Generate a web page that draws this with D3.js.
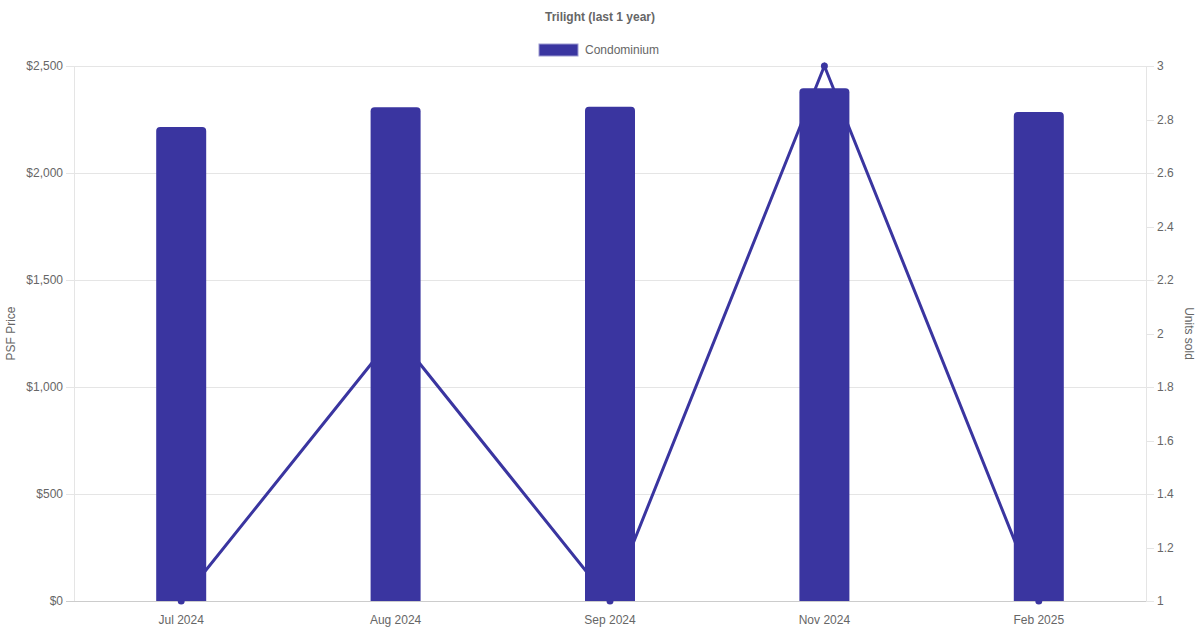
<!DOCTYPE html>
<html>
<head>
<meta charset="utf-8">
<script src="https://cdn.jsdelivr.net/npm/d3@7"></script>
<style>
    body { margin: 0; background: #fff; }
    svg { display: block; font-family: "Liberation Sans", Arial, Helvetica, sans-serif; }
</style>
</head>
<body>
<div id="chart"></div>
<script>
// Chart data
const months = ["Jul 2024", "Aug 2024", "Sep 2024", "Nov 2024", "Feb 2025"];
const psfPrice = [2215, 2307, 2309, 2396, 2285];
const unitsSold = [1, 2, 1, 3, 1];
const priceTicks = [0, 500, 1000, 1500, 2000, 2500];
const unitTicks = [1, 1.2, 1.4, 1.6, 1.8, 2, 2.2, 2.4, 2.6, 2.8, 3];

const width = 1200;
const height = 630;
const margin = { top: 66, right: 54, bottom: 29, left: 74 };
const barColor = "#3a35a0";
const textColor = "#666";
const gridColor = "#e5e5e5";

const svg = d3.select("#chart")
    .append("svg")
    .attr("width", width)
    .attr("height", height);

const x = d3.scaleBand()
    .domain(months)
    .range([margin.left, width - margin.right]);

const yLeft = d3.scaleLinear()
    .domain([0, 2500])
    .range([height - margin.bottom, margin.top]);

const yRight = d3.scaleLinear()
    .domain([1, 3])
    .range([height - margin.bottom, margin.top]);

// Gridlines from the left axis
svg.append("g")
    .selectAll("line")
    .data(priceTicks)
    .join("line")
    .attr("x1", margin.left - 8)
    .attr("x2", width - margin.right)
    .attr("y1", d => Math.round(yLeft(d)) + 0.5)
    .attr("y2", d => Math.round(yLeft(d)) + 0.5)
    .attr("stroke", d => d === 0 ? "#ccc" : gridColor);

// axis lines
svg.append("line")
    .attr("x1", margin.left + 0.5).attr("x2", margin.left + 0.5)
    .attr("y1", margin.top).attr("y2", height - margin.bottom)
    .attr("stroke", gridColor);
svg.append("line")
    .attr("x1", width - margin.right + 0.5).attr("x2", width - margin.right + 0.5)
    .attr("y1", margin.top).attr("y2", height - margin.bottom)
    .attr("stroke", gridColor);

// Left ticks
svg.append("g")
    .selectAll("text")
    .data(priceTicks)
    .join("text")
    .attr("x", margin.left - 11)
    .attr("y", d => yLeft(d))
    .attr("dy", "0.35em")
    .attr("text-anchor", "end")
    .attr("font-size", 12)
    .attr("fill", textColor)
    .text(d => "$" + d3.format(",")(d));

// Right ticks
svg.append("g")
    .selectAll("line")
    .data(unitTicks)
    .join("line")
    .attr("x1", width - margin.right)
    .attr("x2", width - margin.right + 8)
    .attr("y1", d => Math.round(yRight(d)) + 0.5)
    .attr("y2", d => Math.round(yRight(d)) + 0.5)
    .attr("stroke", gridColor);

svg.append("g")
    .selectAll("text")
    .data(unitTicks)
    .join("text")
    .attr("x", width - margin.right + 11)
    .attr("y", d => yRight(d))
    .attr("dy", "0.35em")
    .attr("text-anchor", "start")
    .attr("font-size", 12)
    .attr("fill", textColor)
    .text(d => d3.format("~g")(d));

// x labels
svg.append("g")
    .selectAll("text")
    .data(months)
    .join("text")
    .attr("x", d => x(d) + x.bandwidth() / 2)
    .attr("y", height - margin.bottom + 19)
    .attr("dy", "0.35em")
    .attr("text-anchor", "middle")
    .attr("font-size", 12)
    .attr("fill", textColor)
    .text(d => d);

// Axis titles
svg.append("text")
    .attr("transform", `translate(15, ${(margin.top + height - margin.bottom) / 2}) rotate(-90)`)
    .attr("text-anchor", "middle")
    .attr("font-size", 12)
    .attr("fill", textColor)
    .text("PSF Price");

svg.append("text")
    .attr("transform", `translate(1185, ${(margin.top + height - margin.bottom) / 2}) rotate(90)`)
    .attr("text-anchor", "middle")
    .attr("font-size", 12)
    .attr("fill", textColor)
    .text("Units sold");

// Units line (drawn behind bars)
const line = d3.line()
    .x((d, i) => x(months[i]) + x.bandwidth() / 2)
    .y(d => yRight(d));

svg.append("path")
    .datum(unitsSold)
    .attr("d", line)
    .attr("fill", "none")
    .attr("stroke", barColor)
    .attr("stroke-width", 3);

svg.append("g")
    .selectAll("circle")
    .data(unitsSold)
    .join("circle")
    .attr("cx", (d, i) => x(months[i]) + x.bandwidth() / 2)
    .attr("cy", d => yRight(d))
    .attr("r", 3.5)
    .attr("fill", barColor);

// Bars with rounded tops
const barW = 50;
const r = 4;
function barPath(x0, y0, w, y1) {
    return `M${x0},${y1}V${y0 + r}Q${x0},${y0} ${x0 + r},${y0}H${x0 + w - r}Q${x0 + w},${y0} ${x0 + w},${y0 + r}V${y1}Z`;
}

svg.append("g")
    .selectAll("path")
    .data(psfPrice)
    .join("path")
    .attr("d", (d, i) => barPath(x(months[i]) + x.bandwidth() / 2 - barW / 2, yLeft(d), barW, yLeft(0)))
    .attr("fill", barColor);

// Title
svg.append("text")
    .attr("x", width / 2)
    .attr("y", 17)
    .attr("dy", "0.35em")
    .attr("text-anchor", "middle")
    .attr("font-size", 12)
    .attr("font-weight", "bold")
    .attr("fill", textColor)
    .text("Trilight (last 1 year)");

// Legend
const legend = svg.append("g");
legend.append("rect")
    .attr("x", 539)
    .attr("y", 44)
    .attr("width", 39)
    .attr("height", 12)
    .attr("fill", barColor)
    .attr("stroke", "#9c9ad0")
    .attr("stroke-width", 1);
legend.append("text")
    .attr("x", 585)
    .attr("y", 50)
    .attr("dy", "0.35em")
    .attr("font-size", 12)
    .attr("fill", textColor)
    .text("Condominium");
</script>
</body>
</html>
